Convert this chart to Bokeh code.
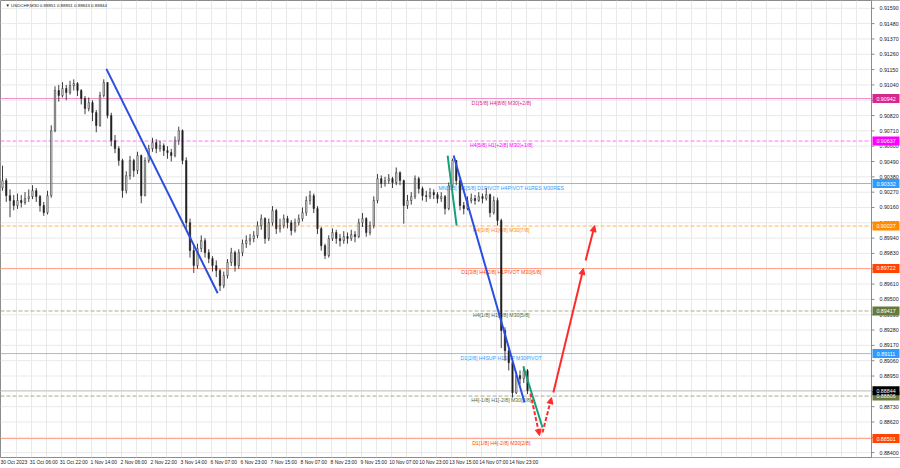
from bokeh.plotting import figure
from bokeh.models import (Range1d, FixedTicker, Arrow, NormalHead, Label,
                          ColumnDataSource)
from bokeh.embed import file_html
from bokeh.resources import INLINE
from bokeh.core.properties import value

# ---------------- data (2-hour candles) ----------------
first_open = 0.90300
closes = [
    0.90353, 0.90245, 0.90210, 0.90174, 0.90210, 0.90195, 0.90224, 0.90238, 0.90281, 0.90238,
    0.90174, 0.90123, 0.90245, 0.90712, 0.91000, 0.90964, 0.91014, 0.90985, 0.91035, 0.91050,
    0.91000, 0.90942, 0.90870, 0.90913, 0.90842, 0.90748, 0.90964, 0.91057, 0.90820, 0.90640,
    0.90583, 0.90497, 0.90281, 0.90389, 0.90497, 0.90425, 0.90533, 0.90245, 0.90497, 0.90583,
    0.90626, 0.90583, 0.90604, 0.90568, 0.90554, 0.90533, 0.90640, 0.90712, 0.90497, 0.90051,
    0.89851, 0.89743, 0.89865, 0.89922, 0.89836, 0.89793, 0.89743, 0.89707, 0.89599, 0.89671,
    0.89765, 0.89836, 0.89743, 0.89836, 0.89901, 0.89922, 0.89937, 0.89958, 0.90030, 0.90080,
    0.89937, 0.90051, 0.90138, 0.90008, 0.90030, 0.90080, 0.90051, 0.89994, 0.90051, 0.90080,
    0.90123, 0.90210, 0.90245, 0.90152, 0.90008, 0.89886, 0.89815, 0.89937, 0.89980, 0.89937,
    0.89922, 0.89951, 0.89937, 0.89965, 0.89951, 0.90051, 0.90080, 0.89980, 0.90030, 0.90210,
    0.90367, 0.90332, 0.90353, 0.90367, 0.90339, 0.90410, 0.90353, 0.90174, 0.90210, 0.90238,
    0.90367, 0.90295, 0.90245, 0.90238, 0.90267, 0.90252, 0.90224, 0.90238, 0.90152, 0.90317,
    0.90497, 0.90353, 0.90174, 0.90152, 0.90210, 0.90224, 0.90210, 0.90238, 0.90224, 0.90252,
    0.90123, 0.90210, 0.90066, 0.89276, 0.89132, 0.89046, 0.88830, 0.88953, 0.88931, 0.88988,
    0.88844]
highs = [
    0.90460, 0.90370, 0.90290, 0.90250, 0.90260, 0.90250, 0.90270, 0.90290, 0.90320, 0.90300,
    0.90250, 0.90200, 0.90280, 0.90750, 0.91030, 0.91040, 0.91060, 0.91040, 0.91070, 0.91080,
    0.91060, 0.91010, 0.90960, 0.90950, 0.90930, 0.90860, 0.90990, 0.91080, 0.91060, 0.90840,
    0.90680, 0.90600, 0.90510, 0.90420, 0.90530, 0.90510, 0.90560, 0.90540, 0.90520, 0.90610,
    0.90660, 0.90650, 0.90640, 0.90620, 0.90600, 0.90580, 0.90670, 0.90740, 0.90720, 0.90520,
    0.90080, 0.89880, 0.89900, 0.89960, 0.89940, 0.89860, 0.89810, 0.89780, 0.89720, 0.89700,
    0.89790, 0.89870, 0.89850, 0.89860, 0.89930, 0.89960, 0.89970, 0.89990, 0.90060, 0.90110,
    0.90090, 0.90080, 0.90170, 0.90150, 0.90080, 0.90110, 0.90100, 0.90070, 0.90080, 0.90110,
    0.90160, 0.90240, 0.90280, 0.90260, 0.90170, 0.90020, 0.89900, 0.89960, 0.90010, 0.90000,
    0.89970, 0.89990, 0.89980, 0.90000, 0.89990, 0.90080, 0.90120, 0.90090, 0.90060, 0.90240,
    0.90400, 0.90390, 0.90380, 0.90400, 0.90380, 0.90447, 0.90420, 0.90360, 0.90250, 0.90270,
    0.90390, 0.90380, 0.90310, 0.90280, 0.90300, 0.90290, 0.90270, 0.90270, 0.90250, 0.90340,
    0.90511, 0.90500, 0.90370, 0.90200, 0.90240, 0.90260, 0.90250, 0.90270, 0.90260, 0.90300,
    0.90260, 0.90240, 0.90230, 0.90080, 0.89300, 0.89150, 0.89060, 0.88980, 0.88990, 0.89020,
    0.89000]
lows = [
    0.90280, 0.90200, 0.90090, 0.90140, 0.90150, 0.90160, 0.90180, 0.90200, 0.90220, 0.90200,
    0.90130, 0.90100, 0.90110, 0.90230, 0.90700, 0.90920, 0.90950, 0.90930, 0.90970, 0.91000,
    0.90960, 0.90900, 0.90830, 0.90850, 0.90780, 0.90700, 0.90740, 0.90950, 0.90800, 0.90600,
    0.90550, 0.90460, 0.90230, 0.90260, 0.90360, 0.90380, 0.90400, 0.90190, 0.90240, 0.90480,
    0.90560, 0.90550, 0.90560, 0.90530, 0.90510, 0.90490, 0.90520, 0.90610, 0.90470, 0.90000,
    0.89800, 0.89690, 0.89720, 0.89840, 0.89800, 0.89760, 0.89700, 0.89660, 0.89560, 0.89580,
    0.89650, 0.89740, 0.89700, 0.89720, 0.89810, 0.89870, 0.89890, 0.89910, 0.89940, 0.90000,
    0.89900, 0.89920, 0.90030, 0.89970, 0.89980, 0.90010, 0.90010, 0.89960, 0.89980, 0.90030,
    0.90060, 0.90100, 0.90180, 0.90120, 0.89970, 0.89850, 0.89790, 0.89800, 0.89920, 0.89900,
    0.89880, 0.89900, 0.89900, 0.89920, 0.89910, 0.89940, 0.90020, 0.89950, 0.89960, 0.90010,
    0.90190, 0.90300, 0.90310, 0.90330, 0.90300, 0.90320, 0.90320, 0.90044, 0.90150, 0.90180,
    0.90220, 0.90260, 0.90210, 0.90200, 0.90220, 0.90220, 0.90190, 0.90200, 0.90110, 0.90140,
    0.90300, 0.90320, 0.90140, 0.90110, 0.90140, 0.90190, 0.90180, 0.90200, 0.90190, 0.90210,
    0.90090, 0.90110, 0.90030, 0.89150, 0.89060, 0.88990, 0.88795, 0.88820, 0.88890, 0.88900,
    0.88820]

time_labels = ["30 Oct 2023", "31 Oct 06:00", "31 Oct 22:00", "1 Nov 14:00", "2 Nov 06:00",
               "2 Nov 22:00", "3 Nov 14:00", "6 Nov 07:00", "6 Nov 23:00", "7 Nov 15:00",
               "8 Nov 07:00", "8 Nov 23:00", "9 Nov 15:00", "10 Nov 07:00", "10 Nov 23:00",
               "13 Nov 15:00", "14 Nov 07:00", "14 Nov 23:00"]
price_ticks = [0.88400, 0.88510, 0.88620, 0.88730, 0.88840, 0.88950, 0.89060, 0.89170,
               0.89280, 0.89390, 0.89500, 0.89610, 0.89720, 0.89830, 0.89940, 0.90050,
               0.90160, 0.90270, 0.90380, 0.90490, 0.90600, 0.90710, 0.90820, 0.90930,
               0.91040, 0.91150, 0.91260, 0.91370, 0.91480, 0.91590]

levels = [0.90942, 0.90637, 0.90332, 0.90027, 0.89722, 0.89417, 0.89111, 0.88806, 0.88501]
level_names = ["D1[5/8] H4[8/8] M30[+2/8]",
               "H4[5/8] H1[+2/8] M30[+1/8]",
               "MN[5/8] W1[5/8] D1PIVOT H4PIVOT H1RES M30RES",
               "H4[3/8] H1[6/8] M30[7/8]",
               "D1[3/8] H4[2/8] H1PIVOT M30[6/8]",
               "H4[1/8] H1[2/8] M30[5/8]",
               "D1[2/8] H4SUP H1SUP M30PIVOT",
               "H4[-1/8] H1[-2/8] M30[3/8]",
               "D1[1/8] H4[-2/8] M30[2/8]"]
current_price = 0.88844
title_text = "\u25bc USDCHF,M30  0.88851 0.88851 0.88843 0.88844"

# trend lines / projections (period index, price)
blue_line_1 = ([27.7, 57.4], [0.91155, 0.89544])
blue_line_2 = ([120.3, 139.2], [0.90533, 0.88760])
green_line_1 = ([118.7, 121.1], [0.90533, 0.90030])
green_line_2 = ([138.9, 144.0], [0.89018, 0.88580])
red_dashed = [((140.8, 0.88824), (143.2, 0.88523)), ((144.0, 0.88544), (146.4, 0.88795))]
red_solid = [((146.9, 0.88831), (154.9, 0.89722)), ((155.5, 0.89779), (157.9, 0.90030))]

# ---------------- styles ----------------
line_styles = [("#f08cc8", "solid"), ("#ff70ff", "4 2"), ("#78bdff", "solid"),
               ("#ffb266", "4 2"), ("#ffa48c", "solid"), ("#a8a890", "4 2"),
               ("#86c4ff", "solid"), ("#a8a890", "4 2"), ("#ffa48c", "solid")]
text_colors = ["#e0208a", "#ff00ff", "#3399ff", "#ff8c00", "#ff4500",
               "#556b2f", "#3399ff", "#556b2f", "#ff4500"]
box_colors = ["#d8288f", "#ff00ff", "#2f9bff", "#ff8c00", "#ff4500",
              "#667a3c", "#2f9bff", "#667a3c", "#ff4500"]
FONT = "Liberation Sans"
PX = 3.75                     # screen pixels per 2-hour candle
x_lo = -2 / PX                # left edge of the canvas
x_hi = 898 / PX               # right edge of the canvas
x_border = 869 / PX           # chart / price-scale separator
y_lo, y_hi = 0.88365, 0.91646

n = len(closes)
xs = list(range(n))
opens = [first_open] + closes[:-1]
bull = [c >= o for o, c in zip(opens, closes)]
src = ColumnDataSource(dict(
    x=xs, high=highs, low=lows,
    top=[max(o, c) for o, c in zip(opens, closes)],
    bottom=[min(o, c) for o, c in zip(opens, closes)],
    fill=["white" if b else "#1a1a1a" for b in bull]))

p = figure(width=900, height=468, x_range=Range1d(x_lo, x_hi), y_range=Range1d(y_lo, y_hi),
           output_backend="svg", toolbar_location=None, y_axis_location=None,
           min_border_left=0, min_border_right=0, min_border_top=0, min_border_bottom=11,
           background_fill_color="white", border_fill_color="white")
p.outline_line_color = "#8c8c8c"
p.outline_line_width = 1
p.ygrid.visible = False

# time axis
tick_pos = [8 * k + 3 for k in range(len(time_labels))]
p.xaxis.ticker = FixedTicker(ticks=tick_pos)
p.xaxis.major_label_overrides = {t: lab for t, lab in zip(tick_pos, time_labels)}
p.xaxis.major_label_text_font_size = "4.9px"
p.xaxis.major_label_text_font = FONT
p.xaxis.major_label_text_color = "#202020"
p.xaxis.major_tick_out = 0
p.xaxis.major_tick_in = 0
p.xaxis.minor_tick_out = 0
p.xaxis.minor_tick_in = 0
p.xaxis.axis_line_color = None
p.xaxis.major_label_standoff = 2

# grid
p.xgrid.ticker = FixedTicker(ticks=[4 * k - 0.27 for k in range(1, 58)])
p.xgrid.grid_line_color = "#e9e9e9"
p.segment(x0=x_lo, y0=price_ticks, x1=x_border, y1=price_ticks, line_color="#e9e9e9",
          line_width=1)

# level lines + texts (behind candles)
for lv, (col, dash) in zip(levels, line_styles):
    p.segment(x0=x_lo, y0=lv, x1=x_border, y1=lv, line_color=col, line_width=1,
              line_dash=dash)
p.segment(x0=x_lo, y0=current_price, x1=x_border, y1=current_price,
          line_color="#c8c8c8", line_width=1)
lsrc = ColumnDataSource(dict(x=[133.0] * len(levels), y=levels, text=level_names, c=text_colors))
p.text(x="x", y="y", text="text", source=lsrc, text_color="c", text_align="center",
       text_baseline="top", y_offset=1, text_font_size="5.2px", text_font=value(FONT))

# candles
p.segment(x0="x", y0="high", x1="x", y1="low", source=src, line_color="#2a2a2a", line_width=0.9)
p.vbar(x="x", width=0.36, top="top", bottom="bottom", source=src, fill_color="fill",
       line_color="#2a2a2a", line_width=0.6)

# trend lines
for (lx, ly), col in [(blue_line_1, "#2b4de0"), (blue_line_2, "#2b4de0"),
                      (green_line_1, "#16a079"), (green_line_2, "#16a079")]:
    p.line(lx, ly, line_color=col, line_width=2)

RED = "#ff2b2b"
for (a, b) in red_dashed:
    p.add_layout(Arrow(x_start=a[0], y_start=a[1], x_end=b[0], y_end=b[1],
                       line_color=RED, line_width=2, line_dash="4 2",
                       end=NormalHead(size=6, fill_color=RED, line_color=RED)))
for (a, b) in red_solid:
    p.add_layout(Arrow(x_start=a[0], y_start=a[1], x_end=b[0], y_end=b[1],
                       line_color=RED, line_width=2,
                       end=NormalHead(size=6, fill_color=RED, line_color=RED)))

# price scale (right strip)
p.quad(left=x_border, right=x_hi, bottom=y_lo, top=y_hi, fill_color="white", line_color=None)
p.segment(x0=x_border, y0=y_lo, x1=x_border, y1=y_hi, line_color="#8c8c8c", line_width=1)
p.ray(x=x_border, y=price_ticks, length=3, length_units="screen", angle=0,
      line_color="#8c8c8c", line_width=1)
p.text(x=x_border, y=price_ticks, text=[f"{t:.5f}" for t in price_ticks], x_offset=8,
       text_align="left", text_baseline="middle", text_font_size="5.3px",
       text_font=value(FONT), text_color="#202020")

box_prices = levels + [current_price]
box_fill = box_colors + ["#000000"]
box_x = x_border + 14.5 / PX
p.rect(x=box_x, y=box_prices, width=27, height=9, width_units="screen",
       height_units="screen", fill_color=box_fill, line_color=None)
p.text(x=box_x, y=box_prices, text=[f"{b:.5f}" for b in box_prices], text_align="center",
       text_baseline="middle", text_font_size="5.3px", text_font=value(FONT),
       text_color="white")

# title inside chart
p.add_layout(Label(x=x_lo, y=y_hi, x_offset=5, y_offset=-2, text=title_text,
                   text_color="#202020", text_font_size="4.4px", text_font=FONT,
                   text_baseline="top", text_align="left"))

open("out.html", "w").write(file_html(p, INLINE))
